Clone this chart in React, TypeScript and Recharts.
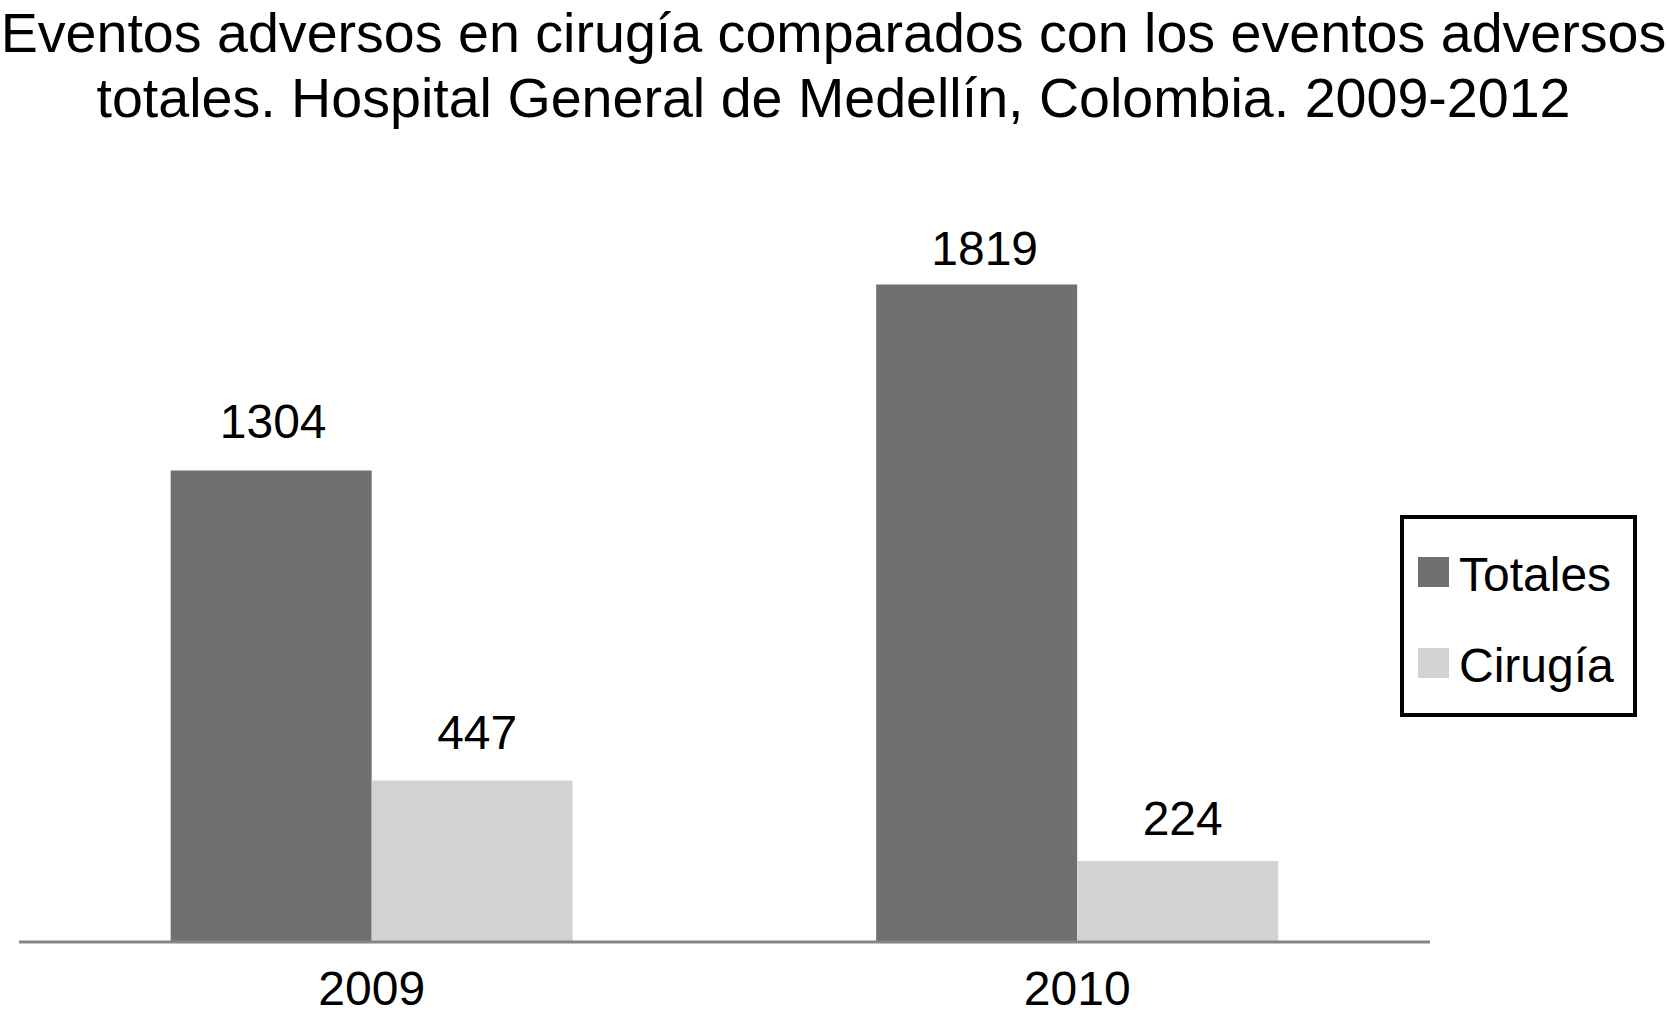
import { Bar, BarChart, LabelList, Legend, XAxis, YAxis } from "recharts";

const years = ["2009", "2010"];
const totales = [1304, 1819];
const cirugia = [447, 224];
const seriesOrder = ["Totales", "Cirugía"];

const data = years.map((year, i) => ({
    year,
    Totales: totales[i],
    Cirugía: cirugia[i],
}));

// label nudges (gap above bar, horizontal shift) per bar, as in the original
const totalesLabelGap = [33, 19];
const totalesLabelDx = [2, 8];
const cirugiaLabelGap = [31, 26];
const cirugiaLabelDx = [5, 5];

const FONT = "'Liberation Sans', Arial, Helvetica, sans-serif";

const makeLabel = (gaps: number[], dxs: number[]) => (props: any) => {
    const { x, y, width, value, index } = props;
    return (
        <text
            x={Number(x) + Number(width) / 2 + dxs[index]}
            y={Number(y) - gaps[index]}
            textAnchor="middle"
            fill="#000"
            fontSize={48}
            fontFamily={FONT}
        >
            {value}
        </text>
    );
};

const LegendBox = (props: any) => {
    const items = [...(props.payload || [])].sort(
        (a: any, b: any) => seriesOrder.indexOf(a.value) - seriesOrder.indexOf(b.value)
    );
    return (
        <div
            style={{
                position: "relative",
                width: 237,
                height: 202,
                border: "4px solid #000",
                boxSizing: "border-box",
                background: "#fff",
                fontFamily: FONT,
            }}
        >
            {items.map((item: any, i: number) => (
                <div key={item.value}>
                    <div
                        style={{
                            position: "absolute",
                            left: 14,
                            top: 38 + i * 91,
                            width: 31,
                            height: 30,
                            background: item.color,
                        }}
                    />
                    <div
                        style={{
                            position: "absolute",
                            left: 55,
                            top: 31 + i * 91,
                            fontSize: 48,
                            lineHeight: "49px",
                            color: "#000",
                            whiteSpace: "nowrap",
                        }}
                    >
                        {item.value}
                    </div>
                </div>
            ))}
        </div>
    );
};

const App = () => {
    return (
        <div style={{ position: "absolute", left: 0, top: 0, width: 1667, height: 1028, background: "#fff" }}>
            <div
                style={{
                    position: "absolute",
                    left: 0,
                    top: 1,
                    width: 1667,
                    textAlign: "center",
                    fontFamily: FONT,
                    fontSize: 55.6,
                    lineHeight: "65px",
                    color: "#000",
                    whiteSpace: "nowrap",
                }}
            >
                Eventos adversos en cirugía comparados con los eventos adversos
                <br />
                totales. Hospital General de Medellín, Colombia. 2009-2012
            </div>
            <div style={{ position: "absolute", left: 0, top: 0 }}>
                <BarChart
                    width={1667}
                    height={1028}
                    data={data}
                    margin={{ top: 219, right: 237, bottom: 0, left: 19 }}
                    barCategoryGap="21.5%"
                    barGap={0}
                >
                    <XAxis
                        dataKey="year"
                        height={86}
                        tickLine={false}
                        tickSize={0}
                        tickMargin={29}
                        axisLine={{ stroke: "#858585", strokeWidth: 3 }}
                        tick={{ fill: "#000", fontSize: 48, fontFamily: FONT }}
                    />
                    <YAxis hide domain={[0, 2000]} />
                    <Legend
                        layout="horizontal"
                        verticalAlign="middle"
                        align="center"
                        wrapperStyle={{ left: 1400, top: 515, width: 237, height: 202 }}
                        content={<LegendBox />}
                    />
                    <Bar dataKey="Totales" fill="#707070" isAnimationActive={false}>
                        <LabelList dataKey="Totales" content={makeLabel(totalesLabelGap, totalesLabelDx)} />
                    </Bar>
                    <Bar dataKey="Cirugía" fill="#d3d3d3" isAnimationActive={false}>
                        <LabelList dataKey="Cirugía" content={makeLabel(cirugiaLabelGap, cirugiaLabelDx)} />
                    </Bar>
                </BarChart>
            </div>
        </div>
    );
};

export default App;
